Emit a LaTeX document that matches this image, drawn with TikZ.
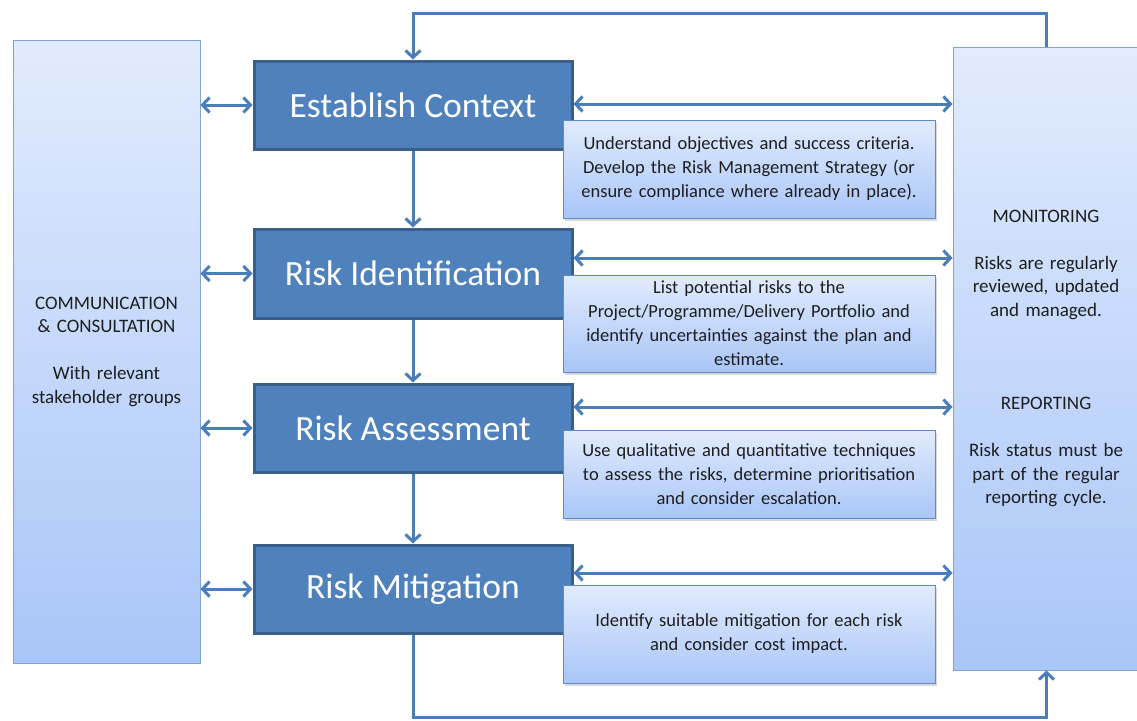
\documentclass[tikz,border=0pt]{standalone}
\usepackage{fontspec}
\setmainfont{Carlito}
\usetikzlibrary{arrows.meta,shadows}
\definecolor{mainfill}{HTML}{4F81BD}
\definecolor{mainedge}{HTML}{3A5F8B}
\definecolor{arrowc}{HTML}{4A7EBB}
\definecolor{paneltop}{HTML}{E1EBFD}
\definecolor{panelbot}{HTML}{A9C6F8}
\definecolor{descedge}{HTML}{5B8BC9}
\definecolor{paneledge}{HTML}{7FA3D6}
\definecolor{txt}{HTML}{1E1E1E}
\begin{document}
\begin{tikzpicture}[x=1pt,y=-1pt,
  mainbox/.style={draw=mainedge,line width=3pt,fill=mainfill,text=white,
    minimum width=318pt,minimum height=88pt,inner sep=0pt,
    font=\fontsize{35.5}{40}\selectfont,
    drop shadow={shadow xshift=2pt,shadow yshift=-2pt,opacity=0.25}},
  descbox/.style={draw=descedge,line width=1pt,top color=paneltop,bottom color=panelbot,
    minimum width=372pt,text width=366pt,align=center,inner sep=0pt,text=txt,
    font=\fontsize{18.5}{24}\selectfont,
    drop shadow={shadow xshift=2pt,shadow yshift=-3pt,opacity=0.3}},
  panel/.style={draw=paneledge,line width=1pt,top color=paneltop,bottom color=panelbot,
    minimum width=187pt,minimum height=623pt,text width=183pt,align=center,inner sep=0pt,
    text=txt,font=\fontsize{19}{23.5}\selectfont},
  ptext/.style={text width=183pt,align=center,text=txt,font=\fontsize{19}{23.5}\selectfont,inner sep=0pt},
  conn/.style={draw=arrowc,line width=3pt},
  >={Straight Barb[length=7pt,width=15pt]}
]
\useasboundingbox (0,0) rectangle (1137,720);
\clip (0,0) rectangle (1137,720);

% side panels
\node[panel] (comm) at (106.5,351.5) {COMMUNICATION\\\& CONSULTATION\\[23.5pt]With relevant\\stakeholder groups};
\node[panel] (mon) at (1046.5,358.5) {};
\node[ptext] (montxt) at (1046,264.5)
  {MONITORING\\[23.5pt]Risks are regularly\\reviewed, updated\\and managed.};
\node[ptext] (reptxt) at (1046,452)
  {REPORTING\\[23.5pt]Risk status must be\\part of the regular\\reporting cycle.};

% main process boxes
\node[mainbox] (ec) at (413,105) {Establish Context};
\node[mainbox,minimum height=89pt] (ri) at (413,273.5) {Risk Identification};
\node[mainbox] (ra) at (413,428) {Risk Assessment};
\node[mainbox] (rm) at (413,589) {Risk Mitigation};

% vertical connectors
\draw[conn,->] (ec.south) -- (ri.north);
\draw[conn,->] (ri.south) -- (ra.north);
\draw[conn,->] (ra.south) -- (rm.north);

% left double arrows
\draw[conn,<->] (comm.east |- ec.west) -- (ec.west);
\draw[conn,<->] (comm.east |- ri.west) -- (ri.west);
\draw[conn,<->] (comm.east |- ra.west) -- (ra.west);
\draw[conn,<->] (comm.east |- rm.west) -- (rm.west);

% right double arrows
\coordinate (r1) at ([yshift=1pt]ec.east);
\coordinate (r2) at ([yshift=15.5pt]ri.east);
\coordinate (r3) at ([yshift=21pt]ra.east);
\coordinate (r4) at ([yshift=16pt]rm.east);
\draw[conn,<->] (r1) -- (mon.west |- r1);
\draw[conn,<->] (r2) -- (mon.west |- r2);
\draw[conn,<->] (r3) -- (mon.west |- r3);
\draw[conn,<->] (r4) -- (mon.west |- r4);

% feedback loops
\coordinate (top) at (0,13);
\coordinate (bot) at (0,717.5);
\draw[conn,->] (mon.north) -- (mon.north |- top) -| (ec.north);
\draw[conn,->] (rm.south) -- (rm.south |- bot) -| (mon.south);

% description boxes
\node[descbox,minimum height=98pt] (d1) at (749,169)
  {Understand objectives and success criteria.\\Develop the Risk Management Strategy (or\\ensure compliance where already in place).};
\node[descbox,minimum height=97pt] (d2) at (749,323.5)
  {List potential risks to the\\Project/Programme/Delivery Portfolio and\\identify uncertainties against the plan and\\estimate.};
\node[descbox,minimum height=88pt] (d3) at (749,474)
  {Use qualitative and quantitative techniques\\to assess the risks, determine prioritisation\\and consider escalation.};
\node[descbox,minimum height=98pt] (d4) at (749,634)
  {Identify suitable mitigation for each risk\\and consider cost impact.\\[24pt]};
\end{tikzpicture}
\end{document}
